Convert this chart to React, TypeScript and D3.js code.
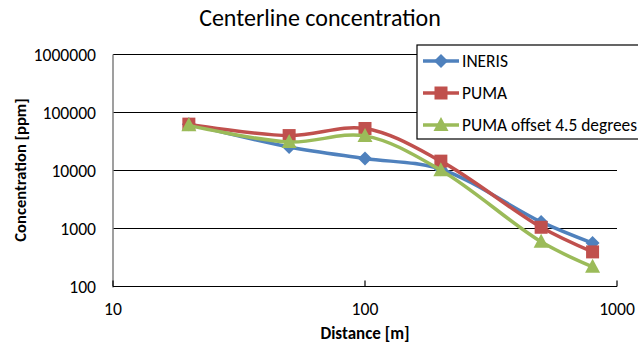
import React from "react";
import * as d3 from "d3";

// Distance along the centerline [m]
const distances = [20, 50, 100, 200, 500, 800];

// Centerline concentration [ppm] per model
const ineris = [63000, 25500, 16100, 10500, 1300, 560];
const puma = [63000, 40000, 53000, 14500, 1050, 395];
const pumaOffset = [60000, 31000, 39500, 10100, 590, 218];

const xTicks = [10, 100, 1000];
const yTicks = [100, 1000, 10000, 100000, 1000000];

const seriesNames = ["INERIS", "PUMA", "PUMA offset 4.5 degrees"];
const seriesValues = [ineris, puma, pumaOffset];
const seriesColors = ["#4F81BD", "#C0504D", "#9BBB59"];
const seriesMarkers = ["diamond", "square", "triangle"];

const W = 638;
const H = 347;
const FONT = "Carlito, Calibri, 'Open Sans', sans-serif";

function Marker({ kind, x, y, color }: { kind: string; x: number; y: number; color: string }) {
  if (kind === "square") {
    return <rect x={x - 6.5} y={y - 6.5} width={13} height={13} fill={color} />;
  }
  if (kind === "diamond") {
    return <path d={`M${x},${y - 7}L${x + 7},${y}L${x},${y + 7}L${x - 7},${y}Z`} fill={color} />;
  }
  return <path d={`M${x},${y - 8}L${x + 7.5},${y + 6}L${x - 7.5},${y + 6}Z`} fill={color} />;
}

export default function App() {
  const x = d3.scaleLog().domain([10, 1000]).range([113, 617]);
  const y = d3.scaleLog().domain([100, 1000000]).range([286.5, 54.5]);

  const line = d3
    .line<[number, number]>()
    .x((d) => x(d[0]))
    .y((d) => y(d[1]))
    .curve(d3.curveCatmullRom.alpha(0.5));

  const legendX = 417;
  const legendY = 45;
  const legendRow = 32;

  return (
    <svg width={W} height={H} style={{ position: "absolute", left: 0, top: 0 }} fontFamily={FONT}>
      <rect width={W} height={H} fill="#fff" />

      <text x={320} y={26} textAnchor="middle" fontSize={24} fill="#000">
        Centerline concentration
      </text>

      {/* horizontal gridlines */}
      {yTicks.map((t) => (
        <line key={t} x1={113} x2={617} y1={y(t)} y2={y(t)} stroke="#000" strokeWidth={1.2} />
      ))}

      {/* axes */}
      <line x1={113} x2={113} y1={y(1000000)} y2={y(100) + 1} stroke="#7f7f7f" strokeWidth={1.5} />
      <line x1={113} x2={617} y1={y(100)} y2={y(100)} stroke="#000" strokeWidth={1.2} />
      {xTicks.map((t) => (
        <line key={t} x1={x(t)} x2={x(t)} y1={y(100) - 6} y2={y(100)} stroke="#000" strokeWidth={1.2} />
      ))}

      {/* y tick labels */}
      {yTicks.map((t) => (
        <text key={t} x={96} y={y(t)} dy="0.35em" textAnchor="end" fontSize={17.6} fill="#000">
          {d3.format("d")(t)}
        </text>
      ))}
      {/* x tick labels */}
      {xTicks.map((t) => (
        <text key={t} x={x(t)} y={309} dy="0.35em" textAnchor="middle" fontSize={17.6} fill="#000">
          {d3.format("d")(t)}
        </text>
      ))}

      <text x={365} y={333} dy="0.35em" textAnchor="middle" fontSize={17} fontWeight="bold" fill="#000">
        Distance [m]
      </text>
      <text
        transform={`translate(20,170) rotate(-90)`}
        dy="0.35em"
        textAnchor="middle"
        fontSize={16.6}
        fontWeight="bold"
        fill="#000"
      >
        Concentration [ppm]
      </text>

      {/* series */}
      {seriesValues.map((vals, i) => {
        const pts = distances.map((d, j) => [d, vals[j]] as [number, number]);
        return (
          <g key={seriesNames[i]}>
            <path d={line(pts) ?? ""} fill="none" stroke={seriesColors[i]} strokeWidth={3.5} strokeLinejoin="round" />
            {pts.map((p, j) => (
              <Marker key={j} kind={seriesMarkers[i]} x={x(p[0])} y={y(p[1])} color={seriesColors[i]} />
            ))}
          </g>
        );
      })}

      {/* legend */}
      <rect x={legendX} y={legendY} width={240} height={94} fill="#fff" stroke="#000" strokeWidth={1.2} />
      {seriesNames.map((name, i) => {
        const cy = legendY + 16 + i * legendRow;
        return (
          <g key={name}>
            <line x1={423} x2={459} y1={cy} y2={cy} stroke={seriesColors[i]} strokeWidth={3.5} />
            <Marker kind={seriesMarkers[i]} x={441} y={cy} color={seriesColors[i]} />
            <text x={462} y={cy} dy="0.35em" fontSize={17.4} fill="#000">
              {name}
            </text>
          </g>
        );
      })}
    </svg>
  );
}
